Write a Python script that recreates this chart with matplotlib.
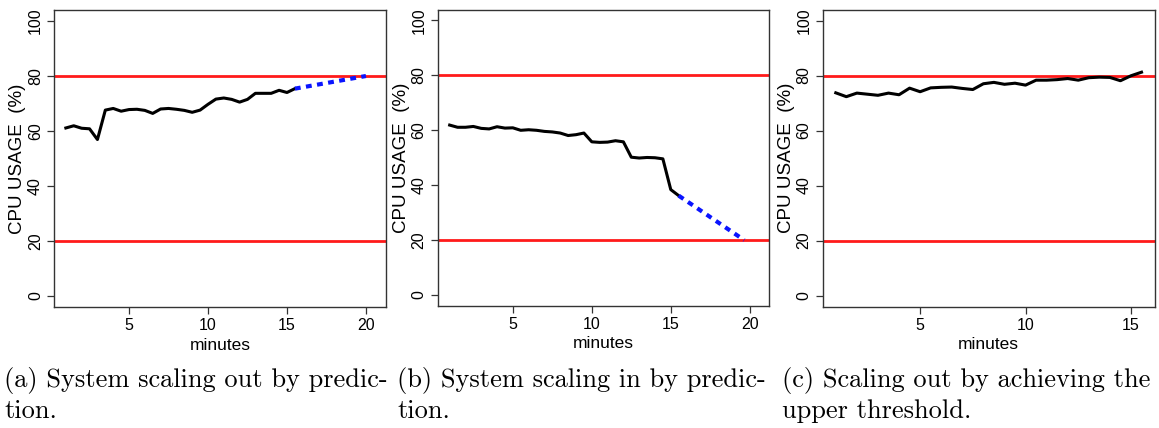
import matplotlib
matplotlib.use("Agg")
import matplotlib.pyplot as plt

# ---------------- data ----------------
minutes_a = [1, 1.5, 2, 2.5, 3, 3.5, 4, 4.5, 5, 5.5, 6, 6.5, 7, 7.5, 8, 8.5, 9, 9.5,
             10, 10.5, 11, 11.5, 12, 12.5, 13, 13.5, 14, 14.5, 15, 15.5]
cpu_a = [61.1, 61.9, 61.0, 60.8, 56.9, 67.6, 68.2, 67.2, 67.8, 67.9, 67.5, 66.4, 68.0, 68.2,
         67.9, 67.5, 66.8, 67.6, 69.7, 71.6, 72.0, 71.5, 70.5, 71.5, 73.7, 73.7, 73.7, 74.8,
         74.0, 75.4]
pred_x_a = [15.5, 20.0]
pred_y_a = [75.4, 80.0]

minutes_b = minutes_a
cpu_b = [61.9, 61.1, 61.1, 61.4, 60.7, 60.5, 61.3, 60.8, 60.9, 60.0, 60.2, 60.0, 59.6, 59.4,
         59.0, 58.1, 58.4, 59.0, 55.8, 55.6, 55.7, 56.2, 55.8, 50.2, 49.9, 50.1, 50.0, 49.6,
         38.4, 36.2]
pred_x_b = [15.5, 19.65]
pred_y_b = [36.2, 20.0]

minutes_c = minutes_a
cpu_c = [73.7, 72.3, 73.6, 73.2, 72.8, 73.6, 73.0, 75.4, 74.1, 75.5, 75.7, 75.8, 75.3, 74.9,
         77.0, 77.5, 76.8, 77.2, 76.5, 78.3, 78.3, 78.5, 78.9, 78.3, 79.2, 79.4, 79.3, 78.1,
         79.9, 81.2]

thresholds = [20, 80]
y_ticks = [0, 20, 40, 60, 80, 100]
x_ticks_ab = [5, 10, 15, 20]
x_ticks_c = [5, 10, 15]

captions = [("(a) System scaling out by predic-", "tion."),
            ("(b) System scaling in by predic-", "tion."),
            ("(c) Scaling out by achieving the", "upper threshold.")]

# ---------------- figure ----------------
W, H = 1159, 428
fig = plt.figure(figsize=(W / 100, H / 100), dpi=100)
sans = "Liberation Sans"


def ax_at(l, r, t, b):
    return fig.add_axes([l / W, 1 - b / H, (r - l) / W, (b - t) / H])


panels = [
    dict(box=(54, 386, 10, 307), xlim=(0.25, 21.27), xt=x_ticks_ab,
         x=minutes_a, y=cpu_a, px=pred_x_a, py=pred_y_a),
    dict(box=(437.5, 769, 9.5, 306), xlim=(0.23, 21.22), xt=x_ticks_ab,
         x=minutes_b, y=cpu_b, px=pred_x_b, py=pred_y_b),
    dict(box=(822.5, 1155, 9.5, 306.5), xlim=(0.37, 16.14), xt=x_ticks_c,
         x=minutes_c, y=cpu_c, px=None, py=None),
]

for p in panels:
    l, r, t, b = p["box"]
    ax = ax_at(l, r, t, b)
    for th in thresholds:
        ax.axhline(th, color="#ff1a1a", lw=2.0, zorder=2)
    ax.plot(p["x"], p["y"], color="black", lw=2.2, solid_joinstyle="round", zorder=3)
    if p["px"] is not None:
        ax.plot(p["px"], p["py"], color="#0a14ff", lw=3.0,
                linestyle=(0, (1.4, 1.3)), dash_capstyle="butt", zorder=3)
    ax.set_xlim(*p["xlim"])
    ax.set_ylim(-4, 104)
    ax.set_yticks(y_ticks)
    ax.set_xticks(p["xt"])
    ax.set_yticklabels([str(v) for v in y_ticks], rotation=90, va="center",
                       fontfamily=sans, fontsize=11.5)
    ax.set_xticklabels([str(v) for v in p["xt"]], fontfamily=sans, fontsize=11.5)
    ax.tick_params(direction="out", length=5, width=0.9, pad=3, color="#333333")
    for s in ax.spines.values():
        s.set_linewidth(1.0)
        s.set_color("#333333")
    ax.set_ylabel("CPU USAGE  (%)", fontfamily=sans, fontsize=13.5, va="center")
    ax.yaxis.set_label_coords(-36 / (r - l), 0.5)
    ax.set_xlabel("minutes", fontfamily=sans, fontsize=12.5, va="center")
    ax.xaxis.set_label_coords(0.5, -38 / (b - t))

cap_x = [4, 397, 782]
for cx, (l1, l2) in zip(cap_x, captions):
    fig.text(cx / W, 1 - 381 / H, l1, fontfamily="cmr10", fontsize=19, va="center", ha="left")
    fig.text(cx / W, 1 - 411 / H, l2, fontfamily="cmr10", fontsize=19, va="center", ha="left")

fig.savefig("out.png", dpi=100)
